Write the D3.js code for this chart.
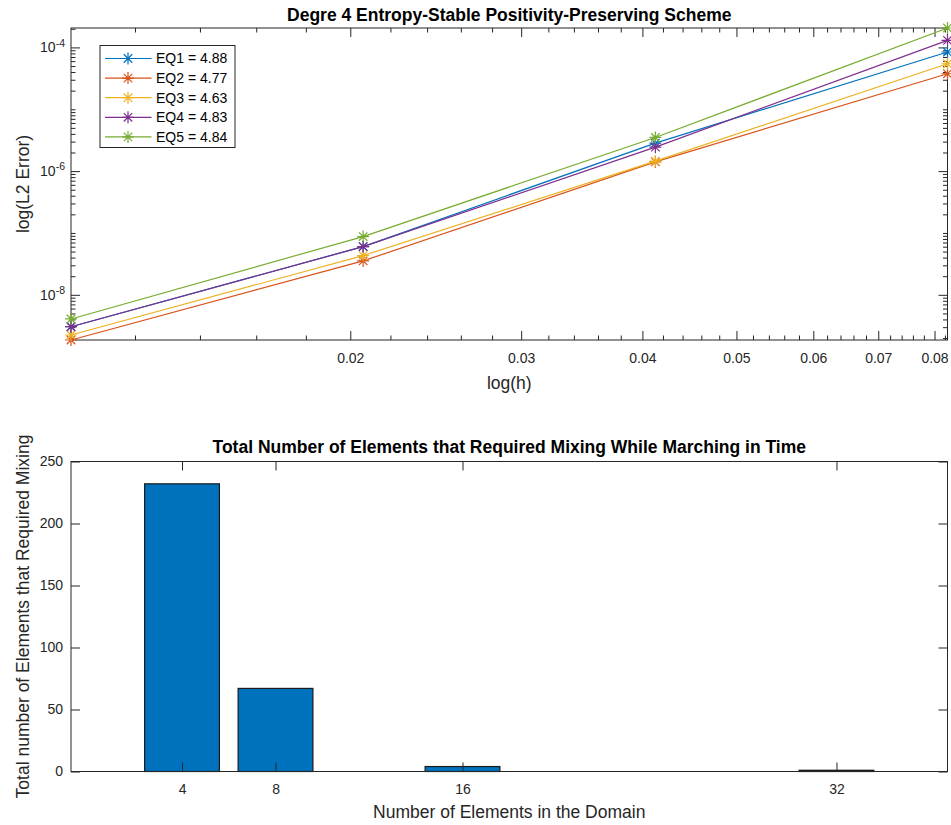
<!DOCTYPE html>
<html>
<head>
<meta charset="utf-8">
<script src="https://cdn.jsdelivr.net/npm/d3@7"></script>
<style>
  body { margin: 0; background: #fff; }
  svg { display: block; font-family: "Liberation Sans", Arial, Helvetica, sans-serif; }
</style>
</head>
<body>
<script>
// ---- Convergence study (top panel) ----
const hValues = [0.01031, 0.02062, 0.04125, 0.0825];
const eq1 = [3.05e-9, 6.03e-8, 2.84e-6, 8.43e-5];
const eq2 = [1.86e-9, 3.53e-8, 1.41e-6, 3.75e-5];
const eq3 = [2.24e-9, 4.31e-8, 1.45e-6, 5.44e-5];
const eq4 = [3.05e-9, 6.00e-8, 2.44e-6, 1.30e-4];
const eq5 = [4.07e-9, 8.75e-8, 3.50e-6, 2.06e-4];
const seriesNames = ["EQ1 = 4.88", "EQ2 = 4.77", "EQ3 = 4.63", "EQ4 = 4.83", "EQ5 = 4.84"];
const seriesColors = ["#0072BD", "#D95319", "#EDB120", "#7E2F8E", "#77AC30"];
const xMajorTicks = [0.02, 0.03, 0.04, 0.05, 0.06, 0.07, 0.08];
const yMajorTicks = [1e-8, 1e-6, 1e-4];

// ---- Mixing counts (bottom panel) ----
const elementCounts = [4, 8, 16, 32];
const mixedElements = [232, 67, 4, 1];
const countTicks = [0, 50, 100, 150, 200, 250];

const W = 951, H = 825;
const axisColor = "#262626";
const titleSize = 17.5, labelSize = 17.5, tickSize = 14;
const svg = d3.select("body").append("svg").attr("width", W).attr("height", H);

const majorLen = 9, minorLen = 4.5;

function styleAxis(g) {
  g.selectAll("path.domain").remove();
  g.selectAll("line").attr("stroke", axisColor).attr("stroke-width", 1);
  g.selectAll("text").attr("fill", axisColor).attr("font-size", tickSize);
}

// =============== Top panel ===============
const t = { left: 71, right: 947.5, top: 28, bottom: 340 };
const allErr = [eq1, eq2, eq3, eq4, eq5].flat();
const x1 = d3.scaleLog().domain(d3.extent(hValues)).range([t.left, t.right]);
const y1 = d3.scaleLog().domain(d3.extent(allErr)).range([t.bottom, t.top]);

const errPanel = svg.append("g");

// minor x ticks every 0.002 inside the domain
const xMinor = d3.range(0.010, 0.0826, 0.002).map(v => +v.toFixed(3))
  .filter(v => v >= x1.domain()[0] && v <= x1.domain()[1] && !xMajorTicks.some(m => Math.abs(m - v) < 1e-9));
// minor y ticks at k*10^n
const yMinor = [];
for (let e = -10; e <= -3; e++) for (let k = 1; k <= 9; k++) {
  const v = k * Math.pow(10, e);
  if (v >= y1.domain()[0] && v <= y1.domain()[1] && !yMajorTicks.some(m => Math.abs(m - v) / m < 1e-9)) yMinor.push(v);
}

// bottom x axis (labels)
errPanel.append("g").attr("transform", `translate(0,${t.bottom})`)
  .call(d3.axisBottom(x1).tickValues(xMajorTicks).tickSize(-majorLen).tickPadding(13)
    .tickFormat(d3.format(".2f")))
  .call(styleAxis);
errPanel.append("g").attr("transform", `translate(0,${t.bottom})`)
  .call(d3.axisBottom(x1).tickValues(xMinor).tickSize(-minorLen).tickFormat(""))
  .call(styleAxis);
// top mirrored ticks
errPanel.append("g").attr("transform", `translate(0,${t.top})`)
  .call(d3.axisTop(x1).tickValues(xMajorTicks).tickSize(-majorLen).tickFormat(""))
  .call(styleAxis);
errPanel.append("g").attr("transform", `translate(0,${t.top})`)
  .call(d3.axisTop(x1).tickValues(xMinor).tickSize(-minorLen).tickFormat(""))
  .call(styleAxis);
// left y axis with powers of ten
const yAxisG = errPanel.append("g").attr("transform", `translate(${t.left},0)`)
  .call(d3.axisLeft(y1).tickValues(yMajorTicks).tickSize(-majorLen).tickPadding(6).tickFormat(""))
  .call(styleAxis);
yAxisG.selectAll(".tick").each(function (d) {
  const exp = Math.round(Math.log10(d));
  const txt = d3.select(this).select("text")
    .attr("x", -6).attr("dy", "0.32em").attr("text-anchor", "end");
  txt.text(null);
  txt.append("tspan").text("10");
  txt.append("tspan").attr("dy", "-0.55em").attr("font-size", 10.5).text(exp);
});
errPanel.append("g").attr("transform", `translate(${t.left},0)`)
  .call(d3.axisLeft(y1).tickValues(yMinor).tickSize(-minorLen).tickFormat(""))
  .call(styleAxis);
// right mirrored ticks
errPanel.append("g").attr("transform", `translate(${t.right},0)`)
  .call(d3.axisRight(y1).tickValues(yMajorTicks).tickSize(-majorLen).tickFormat(""))
  .call(styleAxis);
errPanel.append("g").attr("transform", `translate(${t.right},0)`)
  .call(d3.axisRight(y1).tickValues(yMinor).tickSize(-minorLen).tickFormat(""))
  .call(styleAxis);

// box
errPanel.append("rect").attr("x", t.left).attr("y", t.top)
  .attr("width", t.right - t.left).attr("height", t.bottom - t.top)
  .attr("fill", "none").attr("stroke", axisColor).attr("stroke-width", 1);

// asterisk marker
function starPath(r) {
  const d = r * Math.SQRT1_2;
  return `M${-r},0L${r},0M0,${-r}L0,${r}M${-d},${-d}L${d},${d}M${-d},${d}L${d},${-d}`;
}

const series = [eq1, eq2, eq3, eq4, eq5];
const line1 = d3.line().x((d, i) => x1(hValues[i])).y(d => y1(d));
series.forEach((s, k) => {
  errPanel.append("path").datum(s).attr("d", line1)
    .attr("fill", "none").attr("stroke", seriesColors[k]).attr("stroke-width", 1.2);
  errPanel.selectAll(null).data(s).enter().append("path")
    .attr("transform", (d, i) => `translate(${x1(hValues[i])},${y1(d)})`)
    .attr("d", starPath(6)).attr("fill", "none")
    .attr("stroke", seriesColors[k]).attr("stroke-width", 1.2);
});

// legend
const lg = errPanel.append("g").attr("transform", "translate(100,45.5)");
lg.append("rect").attr("width", 135).attr("height", 102)
  .attr("fill", "#fff").attr("stroke", axisColor).attr("stroke-width", 1);
seriesNames.forEach((name, k) => {
  const yy = 13 + k * 19.6;
  lg.append("line").attr("x1", 5).attr("x2", 51.5).attr("y1", yy).attr("y2", yy)
    .attr("stroke", seriesColors[k]).attr("stroke-width", 1.2);
  lg.append("path").attr("transform", `translate(28,${yy})`).attr("d", starPath(6))
    .attr("fill", "none").attr("stroke", seriesColors[k]).attr("stroke-width", 1.2);
  lg.append("text").attr("x", 56).attr("y", yy).attr("dy", "0.35em")
    .attr("font-size", tickSize).attr("fill", "#000").text(name);
});

// titles and axis labels
errPanel.append("text").attr("x", (t.left + t.right) / 2).attr("y", 21)
  .attr("text-anchor", "middle").attr("font-weight", "bold").attr("font-size", titleSize)
  .attr("fill", "#000").text("Degre 4 Entropy-Stable Positivity-Preserving Scheme");
errPanel.append("text").attr("x", (t.left + t.right) / 2).attr("y", 389)
  .attr("text-anchor", "middle").attr("font-size", labelSize).attr("fill", axisColor).text("log(h)");
errPanel.append("text").attr("transform", `translate(29,${(t.top + t.bottom) / 2}) rotate(-90)`)
  .attr("text-anchor", "middle").attr("font-size", labelSize).attr("fill", axisColor).text("log(L2 Error)");

// =============== Bottom panel ===============
const b = { left: 71, right: 947.5, top: 461.5, bottom: 771.5 };
const x2 = d3.scaleLinear().domain([-0.75, 36.75]).range([b.left, b.right]);
const y2 = d3.scaleLinear().domain([0, 250]).range([b.bottom, b.top]);
const barW = 3.2;

const mixPanel = svg.append("g");

mixPanel.selectAll("rect.bar").data(elementCounts).enter().append("rect")
  .attr("class", "bar")
  .attr("x", (d) => x2(d - barW / 2))
  .attr("width", x2(barW) - x2(0))
  .attr("y", (d, i) => y2(mixedElements[i]))
  .attr("height", (d, i) => y2(0) - y2(mixedElements[i]))
  .attr("fill", "#0072BD").attr("stroke", "#1a1a1a").attr("stroke-width", 1.2);

mixPanel.append("g").attr("transform", `translate(0,${b.bottom})`)
  .call(d3.axisBottom(x2).tickValues(elementCounts).tickSize(-majorLen).tickPadding(13))
  .call(styleAxis);
mixPanel.append("g").attr("transform", `translate(0,${b.top})`)
  .call(d3.axisTop(x2).tickValues(elementCounts).tickSize(-majorLen).tickFormat(""))
  .call(styleAxis);
mixPanel.append("g").attr("transform", `translate(${b.left},0)`)
  .call(d3.axisLeft(y2).tickValues(countTicks).tickSize(-majorLen).tickPadding(8))
  .call(styleAxis);
mixPanel.append("g").attr("transform", `translate(${b.right},0)`)
  .call(d3.axisRight(y2).tickValues(countTicks).tickSize(-majorLen).tickFormat(""))
  .call(styleAxis);

mixPanel.append("rect").attr("x", b.left).attr("y", b.top)
  .attr("width", b.right - b.left).attr("height", b.bottom - b.top)
  .attr("fill", "none").attr("stroke", axisColor).attr("stroke-width", 1);

mixPanel.append("text").attr("x", (b.left + b.right) / 2).attr("y", 453)
  .attr("text-anchor", "middle").attr("font-weight", "bold").attr("font-size", titleSize)
  .attr("fill", "#000").text("Total Number of Elements that Required Mixing While Marching in Time");
mixPanel.append("text").attr("x", (b.left + b.right) / 2).attr("y", 818)
  .attr("text-anchor", "middle").attr("font-size", labelSize).attr("fill", axisColor)
  .text("Number of Elements in the Domain");
mixPanel.append("text").attr("transform", `translate(29,${(b.top + b.bottom) / 2}) rotate(-90)`)
  .attr("text-anchor", "middle").attr("font-size", labelSize).attr("fill", axisColor)
  .text("Total number of Elements that Required Mixing");
</script>
</body>
</html>
